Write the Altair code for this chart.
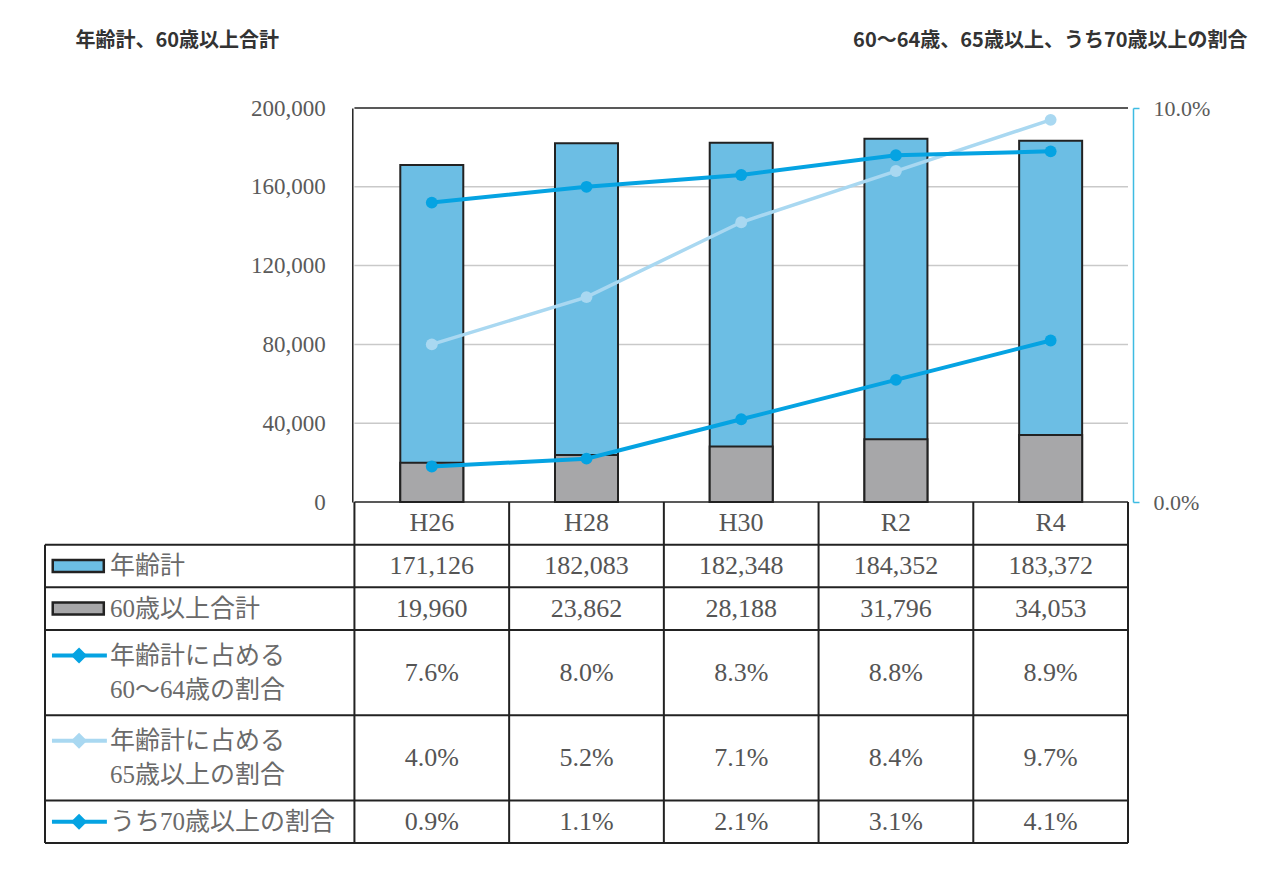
import altair as alt
import pandas as pd

# ---------------- data ----------------
years = ["H26", "H28", "H30", "R2", "R4"]
total = [171126, 182083, 182348, 184352, 183372]
over60 = [19960, 23862, 28188, 31796, 34053]
rate_60_64 = [7.6, 8.0, 8.3, 8.8, 8.9]
rate_65 = [4.0, 5.2, 7.1, 8.4, 9.7]
rate_70 = [0.9, 1.1, 2.1, 3.1, 4.1]
row_labels = [
    "年齢計",
    "60歳以上合計",
    "年齢計に占める\n60～64歳の割合",
    "年齢計に占める\n65歳以上の割合",
    "うち70歳以上の割合",
]
left_title = "年齢計、60歳以上合計"
right_title = "60～64歳、65歳以上、うち70歳以上の割合"
left_ticks = [0, 40000, 80000, 120000, 160000, 200000]
right_ticks = [0.0, 10.0]

# ---------------- layout / style ----------------
W, H = 1093, 735
PLOT_H = 394
LABEL_COLS = 2
NCOLS = LABEL_COLS + len(years)
ROW_UNITS = [1, 1, 1, 2, 2, 1]          # header row + 5 data rows (text lines)
ROW_PX = (H - PLOT_H) / sum(ROW_UNITS)
LINE_H = 34
edges = [0]
for u in ROW_UNITS:
    edges.append(edges[-1] + u)
centers = [(edges[k] + edges[k + 1]) / 2 for k in range(len(ROW_UNITS))]
col_w = W / NCOLS
year_cols = [LABEL_COLS + i + 0.5 for i in range(len(years))]

BLUE = "#6CBEE4"
GRAY = "#A7A7A9"
DARK = "#05A3E2"
LIGHT = "#A9D8F1"
AXIS_CYAN = "#3DBBE2"
EDGE = "#222222"
SERIF = "'Liberation Serif', 'Noto Sans CJK JP', serif"
SANS = "'Noto Sans CJK JP', sans-serif"
TEXT_GRAY = "#555555"

X_SCALE = alt.Scale(domain=[0, NCOLS], nice=False, zero=False)
VAL_SCALE = alt.Scale(domain=[0, 200000], range=[PLOT_H, 0], nice=False)
PCT_SCALE = alt.Scale(domain=[0, 10], range=[PLOT_H, 0], nice=False)
ROW_SCALE = alt.Scale(domain=[0, sum(ROW_UNITS)], range=[PLOT_H, H], nice=False, zero=False)

LEFT_OFFSET = LABEL_COLS * col_w
LEFT_AXIS = alt.Axis(
    orient="left", offset=-LEFT_OFFSET, values=left_ticks, format=",d",
    ticks=False, labelPadding=27, labelFont=SERIF, labelFontSize=23, labelColor="#5a5a5a",
    domainColor=EDGE, domainWidth=1.5, grid=False,
    title=left_title, titleAngle=0, titleAlign="left", titleBaseline="middle",
    titleX=35 - LEFT_OFFSET, titleY=-68, titleFont=SANS, titleFontSize=20,
    titleFontWeight="bold", titleColor="#333333",
)
RIGHT_AXIS = alt.Axis(
    orient="right", values=right_ticks, labelExpr="format(datum.value, '.1f') + '%'",
    tickSize=6, tickColor=AXIS_CYAN, tickWidth=1.5, domainColor=AXIS_CYAN, domainWidth=1.5,
    labelPadding=14, labelFont=SERIF, labelFontSize=22, labelColor="#5a5a5a", grid=False,
    title=right_title, titleAngle=0, titleAlign="right", titleBaseline="middle",
    titleX=114, titleY=-68, titleFont=SANS, titleFontSize=20,
    titleFontWeight="bold", titleColor="#333333",
)


def xq(field):
    return alt.X(field, type="quantitative", scale=X_SCALE, axis=None)


def yv(field="value"):
    return alt.Y(field, type="quantitative", scale=VAL_SCALE, axis=LEFT_AXIS, stack=None)


def yp(field="pct"):
    return alt.Y(field, type="quantitative", scale=PCT_SCALE, axis=RIGHT_AXIS)


def yr(field="r"):
    return alt.Y(field, type="quantitative", scale=ROW_SCALE, axis=None)


# ---------------- group A : bars (left axis) ----------------
grid_df = pd.DataFrame({"value": left_ticks[1:-1], "x0": LABEL_COLS, "x1": NCOLS})
frame_df = pd.DataFrame({"value": [left_ticks[0], left_ticks[-1]], "x0": LABEL_COLS, "x1": NCOLS})
blue_df = pd.DataFrame({"col": year_cols, "year": years, "value": total})
gray_df = pd.DataFrame({"col": year_cols, "year": years, "value": over60})

grid = alt.Chart(grid_df).mark_rule(color="#C9C9C9", strokeWidth=1.5).encode(
    x=xq("x0"), x2=alt.X2("x1"), y=yv())
blue_bars = alt.Chart(blue_df).mark_bar(
    orient="vertical", size=63, fill=BLUE, stroke=EDGE, strokeWidth=2).encode(
    x=xq("col"), y=yv())
gray_bars = alt.Chart(gray_df).mark_bar(
    orient="vertical", size=63, fill=GRAY, stroke=EDGE, strokeWidth=2).encode(
    x=xq("col"), y=yv())
frame = alt.Chart(frame_df).mark_rule(color=EDGE, strokeWidth=1.5).encode(
    x=xq("x0"), x2=alt.X2("x1"), y=yv())
group_a = alt.layer(grid, blue_bars, gray_bars, frame)

# ---------------- group B : lines (right axis) ----------------
def line_layer(vals, color, width):
    df = pd.DataFrame({"col": year_cols, "year": years, "pct": vals})
    return alt.Chart(df).mark_line(
        color=color, strokeWidth=width,
        point=alt.OverlayMarkDef(color=color, filled=True, size=140, shape="circle"),
    ).encode(x=xq("col"), y=yp())


group_b = alt.layer(
    line_layer(rate_65, LIGHT, 3.5),
    line_layer(rate_60_64, DARK, 4),
    line_layer(rate_70, DARK, 4),
)

# ---------------- group C : data table ----------------
h_df = pd.DataFrame({"r": edges[1:], "x0": 0, "x1": NCOLS})
v_rows = [{"x": 0, "r0": edges[1], "r1": edges[-1]}]
for c in range(LABEL_COLS, NCOLS + 1):
    v_rows.append({"x": c, "r0": edges[0], "r1": edges[-1]})
v_df = pd.DataFrame(v_rows)

cells = []
for j, yname in enumerate(years):
    cells.append({"col": year_cols[j], "r": centers[0], "t": yname})
series_vals = [
    [f"{v:,}" for v in total],
    [f"{v:,}" for v in over60],
    [f"{v:.1f}%" for v in rate_60_64],
    [f"{v:.1f}%" for v in rate_65],
    [f"{v:.1f}%" for v in rate_70],
]
for i, vals in enumerate(series_vals):
    for j, t in enumerate(vals):
        cells.append({"col": year_cols[j], "r": centers[i + 1], "t": t})
cells_df = pd.DataFrame(cells)


def first_line_r(k):
    n = row_labels[k].count("\n") + 1
    return centers[k + 1] - (n - 1) / 2 * LINE_H / ROW_PX


labels_df = pd.DataFrame({
    "col": 0.42,
    "r": [first_line_r(k) for k in range(len(row_labels))],
    "t": row_labels,
})

series_names = [s.replace("\n", "") for s in row_labels]
series_colors = [BLUE, GRAY, DARK, LIGHT, DARK]
COLOR_SCALE = alt.Scale(domain=series_names, range=series_colors)

rect_df = pd.DataFrame({
    "s": series_names[:2],
    "x0": 0.05, "x1": 0.38,
    "r0": [first_line_r(k) - 6 / ROW_PX for k in range(2)],
    "r1": [first_line_r(k) + 6 / ROW_PX for k in range(2)],
})
lineicon_df = pd.DataFrame({
    "s": series_names[2:],
    "x0": 0.045, "x1": 0.40, "xm": 0.22,
    "r": [first_line_r(k) for k in range(2, 5)],
})

h_lines = alt.Chart(h_df).mark_rule(color=EDGE, strokeWidth=2).encode(
    x=xq("x0"), x2=alt.X2("x1"), y=yr())
v_lines = alt.Chart(v_df).mark_rule(color=EDGE, strokeWidth=2).encode(
    x=xq("x"), y=yr("r0"), y2=alt.Y2("r1"))
cell_text = alt.Chart(cells_df).mark_text(
    font=SERIF, fontSize=26, color=TEXT_GRAY, align="center", baseline="middle").encode(
    x=xq("col"), y=yr(), text="t:N")
label_text = alt.Chart(labels_df).mark_text(
    font=SERIF, fontSize=25, color="#6a6a6a", align="left", baseline="middle",
    lineBreak="\n", lineHeight=LINE_H).encode(
    x=xq("col"), y=yr(), text="t:N")
rect_icons = alt.Chart(rect_df).mark_rect(stroke=EDGE, strokeWidth=2.5).encode(
    x=xq("x0"), x2=alt.X2("x1"), y=yr("r0"), y2=alt.Y2("r1"),
    fill=alt.Fill("s:N", scale=COLOR_SCALE, legend=None))
line_icons = alt.Chart(lineicon_df).mark_rule(strokeWidth=4).encode(
    x=xq("x0"), x2=alt.X2("x1"), y=yr(),
    color=alt.Color("s:N", scale=COLOR_SCALE, legend=None))
dot_icons = alt.Chart(lineicon_df).mark_point(shape="diamond", filled=True, size=260, opacity=1).encode(
    x=xq("xm"), y=yr(),
    color=alt.Color("s:N", scale=COLOR_SCALE, legend=None))

group_c = alt.layer(h_lines, v_lines, cell_text, label_text, rect_icons, line_icons, dot_icons)

chart = alt.layer(group_a, group_c, group_b).resolve_scale(y="independent").properties(
    width=W, height=H,
    autosize=alt.AutoSizeParams(type="none"),
    padding={"left": 32, "top": 100, "right": 120, "bottom": 30},
    background="white",
).configure_view(stroke=None)

chart.save("out.html", embed_options={"renderer": "svg", "actions": False})
